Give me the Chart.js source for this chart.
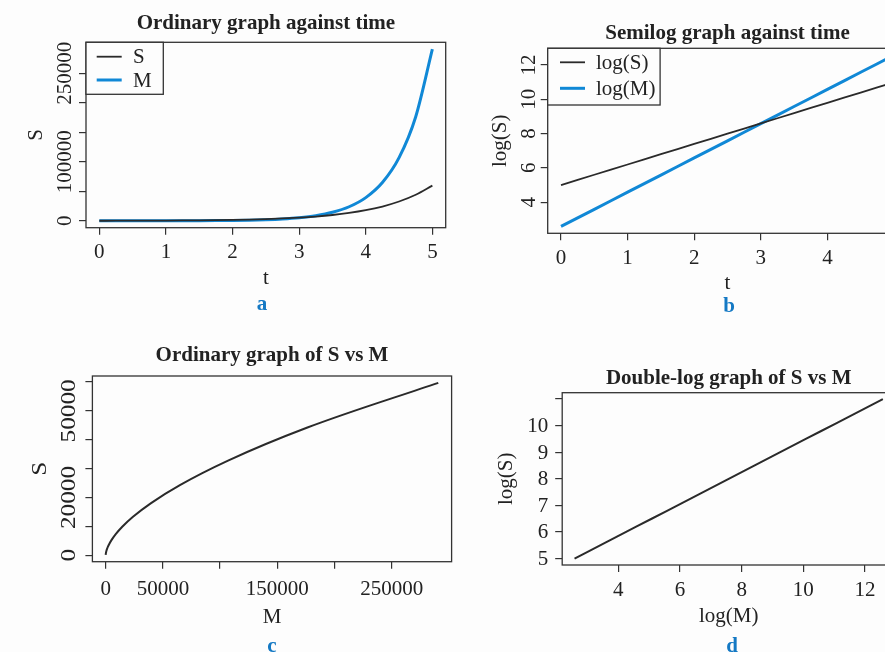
<!DOCTYPE html>
<html><head><meta charset="utf-8">
<script src="https://cdn.jsdelivr.net/npm/chart.js@4.4.1/dist/chart.umd.min.js"></script>
<style>
html,body{margin:0;padding:0;background:#fdfdfd;overflow:hidden;width:885px;height:652px}
canvas{position:absolute;left:0;top:0}
.tag{position:absolute;font:bold 21px "Liberation Serif";line-height:21px;color:#1479c4;width:40px;text-align:center;margin-left:-20px}
</style></head><body>
<canvas id="ca" width="950" height="652"></canvas>
<canvas id="cb" width="950" height="652"></canvas>
<canvas id="cc" width="950" height="652"></canvas>
<canvas id="cd" width="950" height="652"></canvas>
<div class="tag" style="left:262px;top:293px">a</div>
<div class="tag" style="left:729px;top:295px">b</div>
<div class="tag" style="left:272px;top:635px">c</div>
<div class="tag" style="left:732px;top:635px">d</div>
<script>
// ---- data ----
const tValues = [0,0.25,0.5,0.75,1,1.25,1.5,1.75,2,2.25,2.5,2.75,3,3.25,3.5,3.75,4,4.25,4.5,4.75,5];
const sValues = [148,200,270,364,491,663,895,1209,1631,2202,2973,4012,5416,7311,9868,13320,17981,24271,32763,44225,59700];
const mValues = [13.2,21.8,35.9,59.2,97.5,160.8,265.1,437.1,720.7,1188,1959,3230,5326,8780,14476,23867,39350,64876,106961,176350,290750];

// ticks and labels
const aXTicks = [0,1,2,3,4,5];
const aXLabels = [0,1,2,3,4,5];
const aYTicks = [0,50000,100000,150000,200000,250000];
const aYLabels = [0,100000,250000];
const bXTicks = [0,1,2,3,4,5];
const bXLabels = [0,1,2,3,4,5];
const bYTicks = [4,6,8,10,12];
const bYLabels = [4,6,8,10,12];
const cXTicks = [0,50000,100000,150000,200000,250000];
const cXLabels = [0,50000,150000,250000];
const cYTicks = [0,10000,20000,30000,40000,50000,60000];
const cYLabels = [0,20000,50000];
const dXTicks = [4,6,8,10,12];
const dXLabels = [4,6,8,10,12];
const dYTicks = [5,6,7,8,9,10,11];
const dYLabels = [5,6,7,8,9,10];

const logS = sValues.map(v => Math.log(v));
const logM = mValues.map(v => Math.log(v));

const SERIF = '"Liberation Serif", "Times New Roman", serif';
const INK = '#222222';
const BLUE = '#1088d6';
const BLACK = '#2a2a2a';

function rng(arrs){
  const all = [].concat(...arrs);
  const mn = Math.min(...all), mx = Math.max(...all), d = (mx-mn)*0.04;
  return [mn-d, mx+d];
}
function pts(xs, ys){ return xs.map((x,i)=>({x:x, y:ys[i]})); }

const rBox = {
  id:'rBox',
  afterDatasetsDraw(chart){
    const {ctx, chartArea:a} = chart;
    ctx.save(); ctx.strokeStyle='#333'; ctx.lineWidth=1.3;
    ctx.strokeRect(a.left, a.top, a.right-a.left, a.bottom-a.top);
    ctx.restore();
  }
};
const rLegend = {
  id:'rLegend',
  afterDatasetsDraw(chart, args, o){
    if(!o || !o.w) return;
    const {ctx, chartArea:a} = chart;
    ctx.save();
    ctx.fillStyle='#fdfdfd'; ctx.fillRect(a.left, a.top, o.w, o.h);
    ctx.strokeStyle='#333'; ctx.lineWidth=1.3; ctx.strokeRect(a.left, a.top, o.w, o.h);
    ctx.font = '21px ' + SERIF; ctx.textBaseline='middle'; ctx.textAlign='left';
    chart.data.datasets.forEach((ds,i)=>{
      const y = a.top + o.rows[i];
      ctx.strokeStyle = ds.borderColor; ctx.lineWidth = ds.borderWidth;
      ctx.beginPath(); ctx.moveTo(a.left+o.x0, y); ctx.lineTo(a.left+o.x1, y); ctx.stroke();
      ctx.fillStyle = INK; ctx.fillText(ds.label, a.left+o.tx, y+1);
    });
    ctx.restore();
  }
};
const rAxis = {
  id:'rAxis',
  afterDraw(chart, args, o){
    const {ctx, chartArea:a} = chart; const ys = chart.scales.y;
    ctx.save(); ctx.fillStyle = INK; ctx.font = '21px ' + SERIF;
    o.labels.forEach(v=>{
      const y = ys.getPixelForValue(v);
      if(o.rotate){
        ctx.save(); ctx.translate(a.left - o.labelOff, y); ctx.rotate(-Math.PI/2); ctx.scale(o.stretch,1);
        ctx.textAlign='center'; ctx.textBaseline='alphabetic'; ctx.fillText(String(v),0,0); ctx.restore();
      } else {
        ctx.textAlign='right'; ctx.textBaseline='middle'; ctx.fillText(String(v), a.left - o.labelOff, y+1);
      }
    });
    const title = chart.options.scales.y.title.text;
    ctx.save(); ctx.translate(a.left - o.titleOff, (a.top+a.bottom)/2); ctx.rotate(-Math.PI/2); ctx.scale(o.stretch,1);
    ctx.textAlign='center'; ctx.textBaseline='alphabetic'; ctx.fillText(title,0,0); ctx.restore();
    ctx.restore();
  }
};

function build(id, P){
  return new Chart(document.getElementById(id), {
    type:'line',
    data:{datasets:P.datasets},
    options:{
      responsive:false, animation:false, events:[],
      layout:{padding:P.pad},
      elements:{point:{radius:0}},
      plugins:{
        legend:{display:false}, tooltip:{enabled:false},
        title:{display:true, text:P.title, color:INK, font:{family:SERIF, size:21, weight:'bold', lineHeight:1.2}, padding:{top:0, bottom:P.gap}},
        rAxis:P.axis, rLegend:P.legend || false
      },
      scales:{
        x:{type:'linear', min:P.xr[0], max:P.xr[1],
          afterBuildTicks:s=>{ s.ticks = P.xTicks.map(v=>({value:v})); },
          afterFit:s=>{ s.height = P.xH; },
          grid:{drawOnChartArea:false, drawTicks:true, tickLength:7, color:'#333', lineWidth:1.2},
          border:{display:false},
          ticks:{autoSkip:false, maxRotation:0, minRotation:0, padding:P.tickPad, color:INK, font:{family:SERIF, size:21},
            callback:v=> P.xLabels.includes(v) ? String(v) : ''},
          title:{display:true, text:P.xTitle, color:INK, font:{family:SERIF, size:21, lineHeight:1.2}, padding:0}
        },
        y:{type:'linear', min:P.yr[0], max:P.yr[1],
          afterBuildTicks:s=>{ s.ticks = P.yTicks.map(v=>({value:v})); },
          afterFit:s=>{ s.width = 0; },
          grid:{drawOnChartArea:false, drawTicks:true, tickLength:7, color:'#333', lineWidth:1.2},
          border:{display:false},
          ticks:{display:false},
          title:{display:false, text:P.yTitle}
        }
      }
    },
    plugins:[rBox, rLegend, rAxis]
  });
}

// Panel a
build('ca', {
  title:'Ordinary graph against time', xTitle:'t', yTitle:'S',
  datasets:[
    {label:'S', data:pts(tValues, sValues), borderColor:BLACK, borderWidth:1.8, cubicInterpolationMode:'monotone'},
    {label:'M', data:pts(tValues, mValues), borderColor:BLUE, borderWidth:3, cubicInterpolationMode:'monotone'}
  ],
  xr:rng([tValues]), yr:rng([sValues, mValues]),
  xTicks:aXTicks, xLabels:aXLabels, yTicks:aYTicks,
  pad:{left:86, right:950-445.7, top:10.6, bottom:652-227.7-63.6}, gap:6.5, xH:63.6, tickPad:5,
  axis:{labels:aYLabels, rotate:true, labelOff:14.9, titleOff:44.1, stretch:1},
  legend:{w:77.3, h:52, x0:10.7, x1:35.7, tx:47, rows:[14.4, 37.7]}
});
// Panel b
build('cb', {
  title:'Semilog graph against time', xTitle:'t', yTitle:'log(S)',
  datasets:[
    {label:'log(S)', data:pts(tValues, logS), borderColor:BLACK, borderWidth:1.8},
    {label:'log(M)', data:pts(tValues, logM), borderColor:BLUE, borderWidth:3}
  ],
  xr:rng([tValues]), yr:rng([logS, logM]),
  xTicks:bXTicks, xLabels:bXLabels, yTicks:bYTicks,
  pad:{left:547.7, right:950-907.3, top:20.6, bottom:652-233.3-62.5}, gap:2.5, xH:62.5, tickPad:6,
  axis:{labels:bYLabels, rotate:true, labelOff:12.5, titleOff:42, stretch:1},
  legend:{w:112.4, h:56.7, x0:12.3, x1:37.3, tx:48.3, rows:[14, 40]}
});
// Panel c
build('cc', {
  title:'Ordinary graph of S vs M', xTitle:'M', yTitle:'S',
  datasets:[
    {label:'S', data:pts(mValues, sValues), borderColor:BLACK, borderWidth:2, cubicInterpolationMode:'monotone'}
  ],
  xr:rng([mValues]), yr:rng([sValues]),
  xTicks:cXTicks, xLabels:cXLabels, yTicks:cYTicks,
  pad:{left:92.4, right:950-451.6, top:342.9, bottom:652-561.7-67.9}, gap:7.9, xH:67.9, tickPad:8,
  axis:{labels:cYLabels, rotate:true, labelOff:17.2, titleOff:46.3, stretch:1.2}
});
// Panel d
build('cd', {
  title:'Double-log graph of S vs M', xTitle:'log(M)', yTitle:'log(S)',
  datasets:[
    {label:'log(S)', data:pts(logM, logS), borderColor:BLACK, borderWidth:2}
  ],
  xr:rng([logM]), yr:rng([logS]),
  xTicks:dXTicks, xLabels:dXLabels, yTicks:dYTicks,
  pad:{left:562.2, right:950-895.2, top:365.6, bottom:652-565-63.6}, gap:1.9, xH:63.6, tickPad:6,
  axis:{labels:dYLabels, rotate:false, labelOff:14, titleOff:50, stretch:1}
});
</script>
</body></html>
